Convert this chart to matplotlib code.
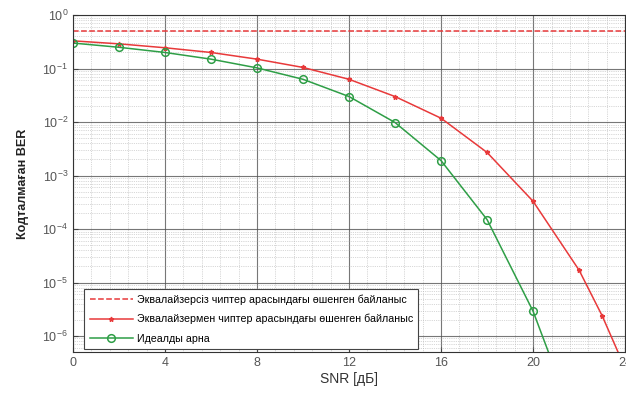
import numpy as np
import matplotlib
matplotlib.use("Agg")
import matplotlib.pyplot as plt
from matplotlib.ticker import LogLocator, MultipleLocator, NullFormatter

plt.rcParams['font.family'] = ['Liberation Sans', 'DejaVu Sans']

snr_red = [0, 2, 4, 6, 8, 10, 12, 14, 16, 18, 20, 22, 23, 24]
ber_red = [0.33, 0.29, 0.245, 0.2, 0.15, 0.105, 0.063, 0.03, 0.0118, 0.0027,
           3.3e-4, 1.7e-5, 2.4e-6, 2.5e-7]
snr_green = [0, 2, 4, 6, 8, 10, 12, 14, 16, 18, 20, 22]
ber_green = [0.3, 0.25, 0.2, 0.15, 0.103, 0.063, 0.03, 0.0098, 0.0019, 1.5e-4,
             2.9e-6, 1.5e-8]
snr_dash = [0, 24]
ber_dash = [0.5, 0.5]

labels = ["Эквалайзерсіз чиптер арасындағы өшенген байланыс",
          "Эквалайзермен чиптер арасындағы өшенген байланыс",
          "Идеалды арна"]
xticks = [0, 4, 8, 12, 16, 20, 24]

fig = plt.figure(figsize=(6.26, 3.97), dpi=100)
ax = fig.add_axes([0.1166, 0.113, 0.882, 0.849])

red = '#e8393a'
green = '#2e9e46'
ax.plot(snr_dash, ber_dash, '--', color=red, lw=1.1, label=labels[0])
ax.plot(snr_red, ber_red, '-', color=red, lw=1.1, marker='*', ms=3.5, label=labels[1])
ax.plot(snr_green, ber_green, '-', color=green, lw=1.1, marker='o', ms=5.5,
        mfc='none', mew=1.1, label=labels[2])

ax.set_yscale('log')
ax.set_xlim(0, 24)
ax.set_ylim(5e-7, 1)
ax.set_xticks(xticks)
ax.xaxis.set_minor_locator(MultipleLocator(0.8))
ax.yaxis.set_major_locator(LogLocator(base=10, numticks=10))
ax.yaxis.set_minor_locator(LogLocator(base=10, subs=np.arange(2, 10), numticks=20))
ax.yaxis.set_minor_formatter(NullFormatter())

ax.grid(True, which='major', color='#555555', lw=0.8, alpha=0.8)
ax.grid(True, which='minor', color='#aaaaaa', lw=0.5, ls=':', alpha=0.9)
ax.tick_params(which='both', direction='in', colors='#444444', labelcolor='#555555',
               labelsize=9)
ax.tick_params(which='minor', length=0)
for s in ax.spines.values():
    s.set_color('#333333')
    s.set_linewidth(0.8)

ax.set_xlabel('SNR [дБ]', fontsize=10, color='#333333', labelpad=2)
ax.set_ylabel('Кодталмаған BER', fontsize=9, color='#222222', fontweight='bold', labelpad=10)

leg = ax.legend(loc='lower left', fontsize=7.7, frameon=True, fancybox=False,
                edgecolor='#444444', framealpha=1, borderpad=0.5, labelspacing=0.85,
                handlelength=4, handletextpad=0.4, borderaxespad=0.3,
                bbox_to_anchor=(0.015, 0.0))
leg.get_frame().set_linewidth(0.8)

fig.savefig('out.png', dpi=100)
